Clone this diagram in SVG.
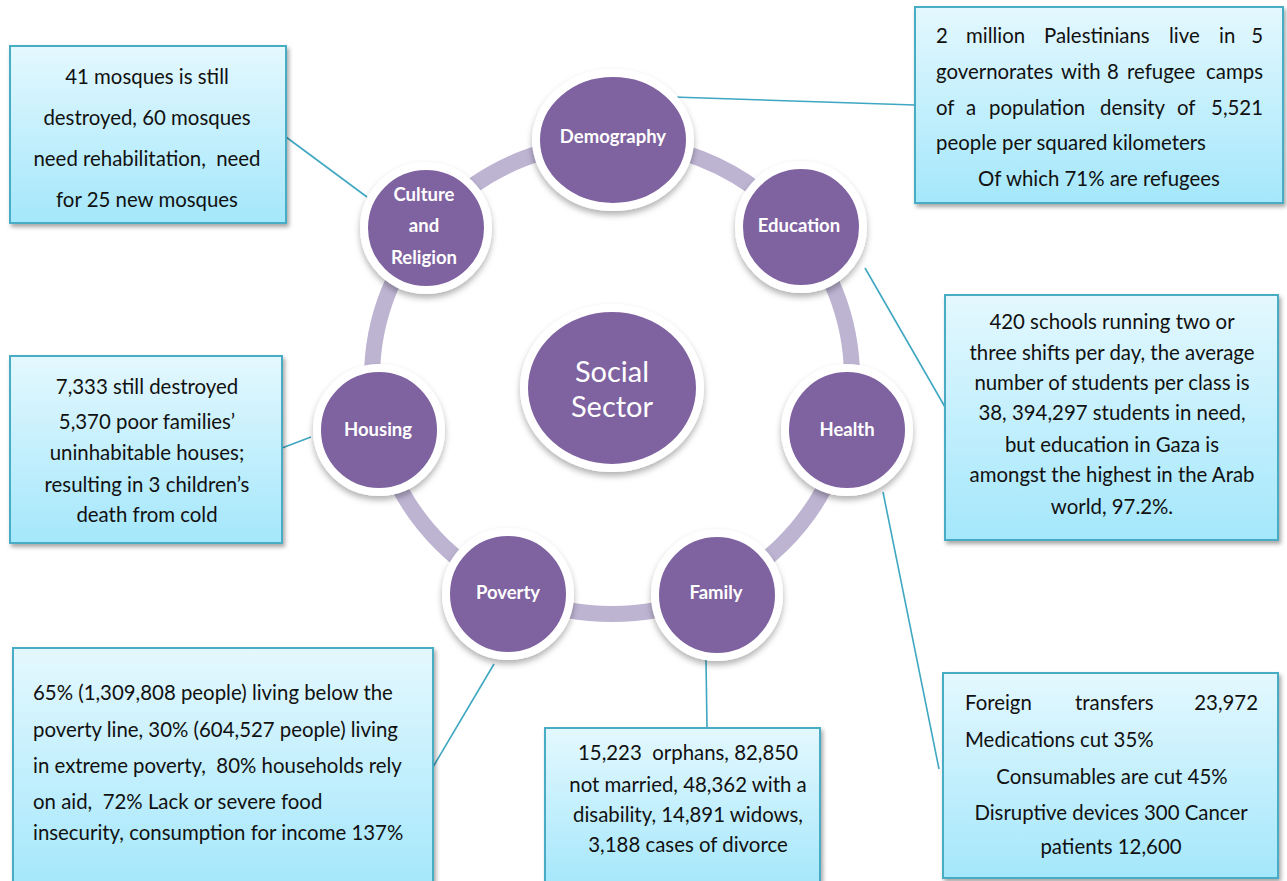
<svg xmlns="http://www.w3.org/2000/svg" width="1287" height="881" viewBox="0 0 1287 881">
<defs>
<linearGradient id="boxg" x1="0" y1="0" x2="0" y2="1">
<stop offset="0" stop-color="#e4f8fe"/>
<stop offset="1" stop-color="#a4e7fb"/>
</linearGradient>
<filter id="sh" x="-10%" y="-10%" width="130%" height="130%">
<feDropShadow dx="2" dy="3" stdDeviation="2" flood-color="#000" flood-opacity="0.35"/>
</filter>
<filter id="csh" x="-20%" y="-20%" width="140%" height="150%">
<feDropShadow dx="0" dy="4" stdDeviation="3" flood-color="#000" flood-opacity="0.3"/>
</filter>
</defs>
<style>
.box{fill:url(#boxg);stroke:#4aacc5;stroke-width:2;filter:url(#sh)}
.bt{font-family:Lato,"Open Sans",sans-serif;font-size:20.4px;fill:#111}
.c{text-anchor:middle}
.e{text-anchor:end}
.node{fill:#7f62a0;stroke:#fff;stroke-width:8;filter:url(#csh)}
.lbl{font-family:Lato,"Open Sans",sans-serif;font-weight:bold;font-size:18.5px;fill:#fff;text-anchor:middle}
.conn{stroke:#3fa7c2;stroke-width:1.6;fill:none}
</style>
<rect width="1287" height="881" fill="#fff"/>
<ellipse cx="612" cy="378" rx="240" ry="236" fill="none" stroke="#bdb4d2" stroke-width="16"/>
<g id="connectors">
<line class="conn" x1="286" y1="137" x2="367" y2="197"/>
<line class="conn" x1="673" y1="97" x2="915" y2="105"/>
<line class="conn" x1="865" y1="268" x2="945" y2="407"/>
<line class="conn" x1="883" y1="492" x2="939" y2="769"/>
<line class="conn" x1="282" y1="448" x2="311" y2="437"/>
<line class="conn" x1="494" y1="664" x2="433" y2="767"/>
<line class="conn" x1="706" y1="660" x2="707" y2="728"/>
</g>
<g id="social-sector">
<ellipse class="node" cx="612" cy="388" rx="88" ry="80"/>
<text font-family="Lato,'Open Sans',sans-serif" font-size="29" fill="#fff" text-anchor="middle"><tspan x="612" y="382">Social</tspan><tspan x="612" y="417">Sector</tspan></text>
</g>
<g id="demography">
<ellipse class="node" cx="613" cy="140" rx="77" ry="67"/>
<text class="lbl" x="613" y="143">Demography</text>
</g>
<g id="education">
<circle class="node" cx="801" cy="227" r="62"/>
<text class="lbl" x="799" y="232">Education</text>
</g>
<g id="health">
<circle class="node" cx="847" cy="430" r="62"/>
<text class="lbl" x="847" y="436">Health</text>
</g>
<g id="family">
<circle class="node" cx="717" cy="595" r="62"/>
<text class="lbl" x="716" y="599">Family</text>
</g>
<g id="poverty">
<circle class="node" cx="508" cy="594" r="62"/>
<text class="lbl" x="508" y="599">Poverty</text>
</g>
<g id="housing">
<circle class="node" cx="379" cy="430" r="62"/>
<text class="lbl" x="378" y="436">Housing</text>
</g>
<g id="culture-religion">
<circle class="node" cx="426" cy="228" r="62"/>
<text class="lbl"><tspan x="424" y="201">Culture</tspan><tspan x="424" y="232">and</tspan><tspan x="424" y="264">Religion</tspan></text>
</g>
<g id="box-culture">
<rect class="box" x="10" y="46" width="276" height="177"/>
<text class="bt c"><tspan x="147" y="84">41 mosques is still</tspan><tspan x="147" y="125">destroyed, 60 mosques</tspan><tspan x="147" y="166">need rehabilitation,&#160; need</tspan><tspan x="147" y="207">for 25 new mosques</tspan></text>
</g>
<g id="box-demography">
<rect class="box" x="915" y="7" width="368" height="196"/>
<text class="bt"><tspan x="936" y="43">2</tspan><tspan x="966" y="43">million</tspan><tspan x="1044" y="43">Palestinians</tspan><tspan x="1169" y="43">live</tspan><tspan x="1219" y="43">in</tspan></text>
<text class="bt e" x="1263" y="43">5</text>
<text class="bt"><tspan x="936" y="79">governorates</tspan><tspan x="1061" y="79">with</tspan><tspan x="1107" y="79">8</tspan><tspan x="1127" y="79">refugee</tspan></text>
<text class="bt e" x="1263" y="79">camps</text>
<text class="bt"><tspan x="936" y="115">of</tspan><tspan x="966" y="115">a</tspan><tspan x="989" y="115">population</tspan><tspan x="1100" y="115">density</tspan><tspan x="1177" y="115">of</tspan></text>
<text class="bt e" x="1263" y="115">5,521</text>
<text class="bt" x="936" y="150">people per squared kilometers</text>
<text class="bt c" x="1099" y="186">Of which 71% are refugees</text>
</g>
<g id="box-education">
<rect class="box" x="945" y="295" width="333" height="245"/>
<text class="bt c"><tspan x="1112" y="329">420 schools running two or</tspan><tspan x="1112" y="360">three shifts per day, the average</tspan><tspan x="1112" y="390">number of students per class is</tspan><tspan x="1112" y="420">38, 394,297 students in need,</tspan><tspan x="1112" y="452">but education in Gaza is</tspan><tspan x="1112" y="482">amongst the highest in the Arab</tspan><tspan x="1112" y="514">world, 97.2%.</tspan></text>
</g>
<g id="box-housing">
<rect class="box" x="10" y="356" width="272" height="187"/>
<text class="bt c"><tspan x="147" y="394">7,333 still destroyed</tspan><tspan x="147" y="429">5,370 poor families’</tspan><tspan x="147" y="460">uninhabitable houses;</tspan><tspan x="147" y="492">resulting in 3 children’s</tspan><tspan x="147" y="522">death from cold</tspan></text>
</g>
<g id="box-poverty">
<rect class="box" x="13" y="648" width="420" height="240"/>
<text class="bt"><tspan x="33" y="700">65% (1,309,808 people) living below the</tspan><tspan x="33" y="737">poverty line, 30% (604,527 people) living</tspan><tspan x="33" y="773">in extreme poverty,&#160; 80% households rely</tspan><tspan x="33" y="809">on aid,&#160; 72% Lack or severe food</tspan><tspan x="33" y="840">insecurity, consumption for income 137%</tspan></text>
</g>
<g id="box-family">
<rect class="box" x="545" y="728" width="275" height="160"/>
<text class="bt c"><tspan x="688" y="760">15,223&#160; orphans, 82,850</tspan><tspan x="688" y="792">not married, 48,362 with a</tspan><tspan x="688" y="822">disability, 14,891 widows,</tspan><tspan x="688" y="852">3,188 cases of divorce</tspan></text>
</g>
<g id="box-health">
<rect class="box" x="943" y="673" width="335" height="205"/>
<text class="bt"><tspan x="965" y="710">Foreign</tspan><tspan x="1075" y="710">transfers</tspan></text>
<text class="bt e" x="1258" y="710">23,972</text>
<text class="bt" x="965" y="747">Medications cut 35%</text>
<text class="bt c"><tspan x="1112" y="784">Consumables are cut 45%</tspan><tspan x="1111" y="820">Disruptive devices 300 Cancer</tspan><tspan x="1111" y="854">patients 12,600</tspan></text>
</g>
</svg>
